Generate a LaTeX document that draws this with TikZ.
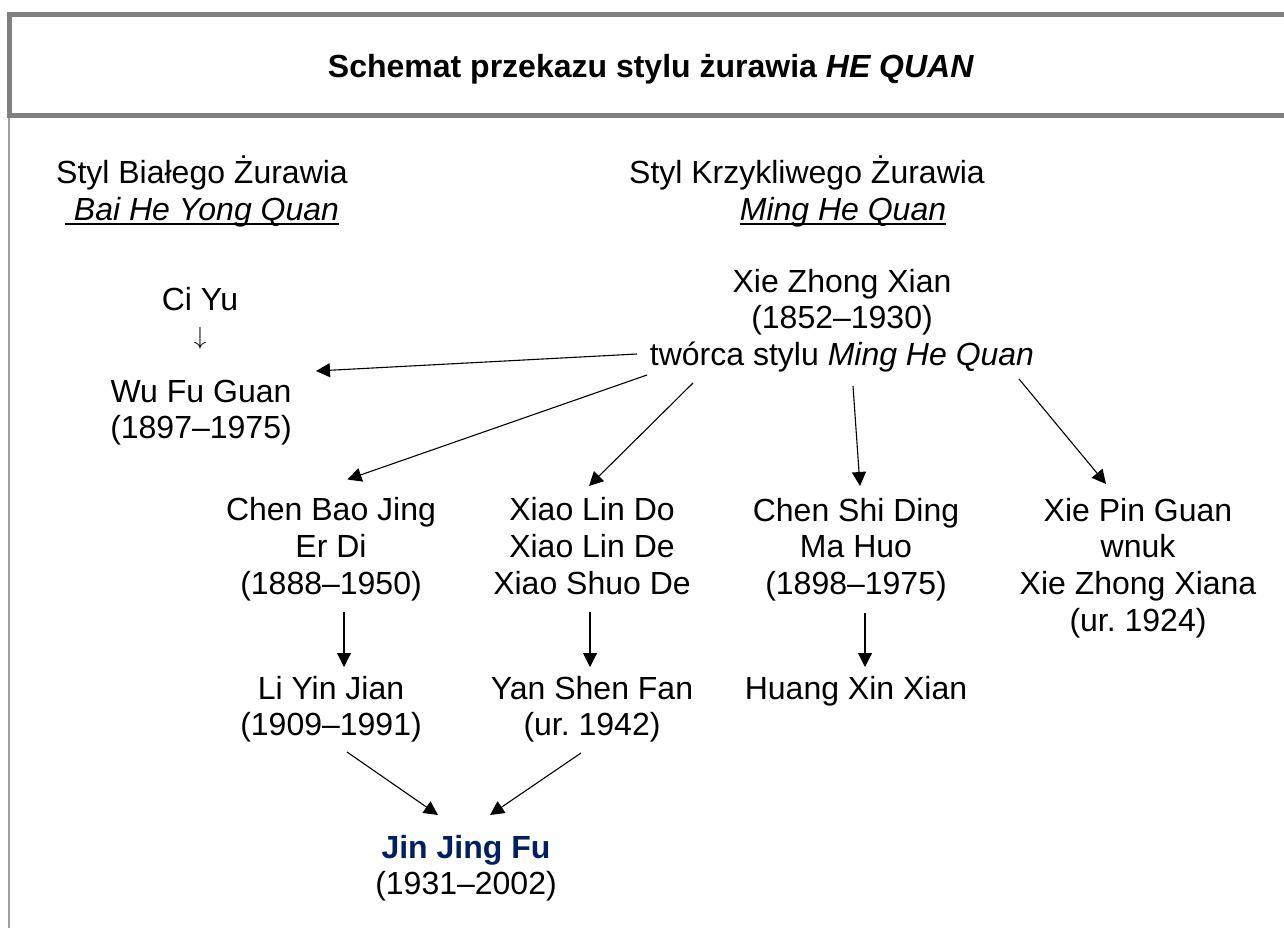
\documentclass[tikz,border=0pt]{standalone}
\usepackage{fontspec}
\setmainfont{Liberation Sans}
\usetikzlibrary{arrows.meta}
\definecolor{jinblue}{HTML}{002060}
\definecolor{framegray}{HTML}{808080}
\definecolor{thingray}{HTML}{A0A0A0}
\frenchspacing
\newcommand\bodysize{\fontsize{32}{36.8}\selectfont}
\newcommand\ulin[1]{\setbox0=\hbox{#1}\rlap{\vrule height -2.3pt depth 4.3pt width \wd0}\box0}
\begin{document}
\begin{tikzpicture}[x=1pt,y=-1pt,
  txt/.style={font=\bodysize, align=center, inner sep=0pt, anchor=base},
  arr/.style={-{Triangle[length=14pt,width=14pt]}, line width=1.1pt, black}]
\useasboundingbox (0,0) rectangle (1284,928);
\clip (0,0) rectangle (1284,928);
\fill[white] (0,0) rectangle (1284,928);
% frame
\draw[framegray, line width=5pt] (9.2,14.2) rectangle (1310,115.7);
\draw[thingray, line width=1.5pt] (9,118) -- (9,935);
% title
\node[txt, font=\bodysize\bfseries] (title) at (651,78) {Schemat przekazu stylu żurawia \textit{HE QUAN}};
% style headings (base anchor = baseline of last line)
\node[txt] (styleL) at (202,220.3) {Styl Białego Żurawia\\\ulin{ \textit{Bai He Yong Quan}}};
\node[txt] (styleR) at (807,183.5) {Styl Krzykliwego Żurawia};
\node[txt] (nameR) at (843,220.3) {\ulin{\textit{Ming He Quan}}};
% people
\node[txt] (ciyu) at (200,310) {Ci Yu};
\node[font=\fontsize{24}{28}\selectfont, inner sep=0pt] (ciyuarr) at (200,338.5) {$\downarrow$};
\node[txt] (wu) at (201,438.8) {Wu Fu Guan\\(1897–1975)};
\node[txt] (xie) at (842,365.6) {Xie Zhong Xian\\(1852–1930)\\twórca stylu \textit{Ming He Quan}};
\node[txt] (chenbao) at (331,594.1) {Chen Bao Jing\\Er Di\\(1888–1950)};
\node[txt] (xiao) at (592,594.1) {Xiao Lin Do\\Xiao Lin De\\Xiao Shuo De};
\node[txt] (chenshi) at (856,594.6) {Chen Shi Ding\\Ma Huo\\(1898–1975)};
\node[txt] (xiepin) at (1138,631.4) {Xie Pin Guan\\wnuk\\Xie Zhong Xiana\\(ur. 1924)};
\node[txt] (li) at (331,735.8) {Li Yin Jian\\(1909–1991)};
\node[txt] (yan) at (592,735.8) {Yan Shen Fan\\(ur. 1942)};
\node[txt] (huang) at (856,699) {Huang Xin Xian};
\node[txt] (jin) at (466,894.8) {\textcolor{jinblue}{\bfseries Jin Jing Fu}\\(1931–2002)};
% connectors
\draw[arr] ([shift={(-205,-11.6)}]xie.base) -- ([shift={(115,-67.8)}]wu.base);
\draw[arr] ([shift={(-195,9.4)}]xie.base) -- ([shift={(16.5,-114.6)}]chenbao.base);
\draw[arr] ([shift={(-149,17.4)}]xie.base) -- ([shift={(-3,-108.1)}]xiao.base);
\draw[arr] ([shift={(11,20.4)}]xie.base) -- ([shift={(4,-108.6)}]chenshi.base);
\draw[arr] ([shift={(177,13.4)}]xie.base) -- ([shift={(-32,-147.4)}]xiepin.base);
\draw[arr] ([shift={(13,17.9)}]chenbao.base) -- ([shift={(13,-68.8)}]li.base);
\draw[arr] ([shift={(-2,17.9)}]xiao.base) -- ([shift={(-2,-68.8)}]yan.base);
\draw[arr] ([shift={(9,18.4)}]chenshi.base) -- ([shift={(9,-32)}]huang.base);
\draw[arr] ([shift={(16,16.2)}]li.base) -- ([shift={(-28,-79.8)}]jin.base);
\draw[arr] ([shift={(-11,17.2)}]yan.base) -- ([shift={(24,-79.8)}]jin.base);
\end{tikzpicture}
\end{document}
